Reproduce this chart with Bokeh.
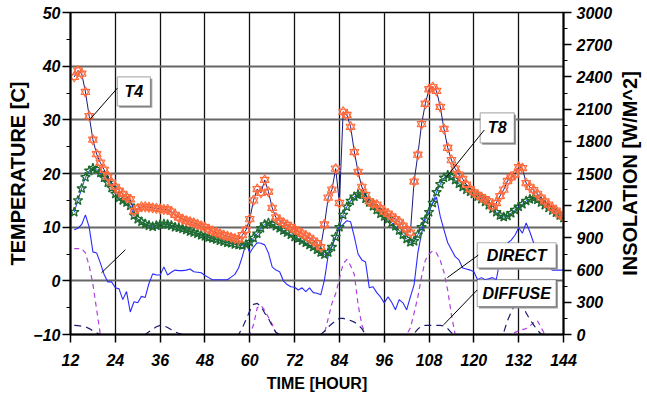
import math
from bokeh.plotting import figure
from bokeh.layouts import row
from bokeh.models import (Range1d, LinearAxis, SingleIntervalTicker, FixedTicker,
                          BoxAnnotation, Label, Arrow)
from bokeh.embed import file_html
from bokeh.resources import INLINE

# ---------------- data ----------------
hours = list(range(13, 145))

t4 = [38.0, 39.2, 38.6, 35.2, 30.7, 26.3, 23.6, 22.0, 20.7, 19.4, 18.3, 17.5,
      16.8, 16.2, 15.6, 15.2, 13.0, 13.5, 13.8, 13.8, 13.7, 13.6, 13.5, 13.4,
      13.3, 13.3, 12.9, 12.3, 11.8, 11.5, 11.2, 11.0, 10.8, 10.5, 10.2, 10.0,
      9.6, 9.3, 9.0, 8.8, 8.5, 8.3, 8.1, 7.9, 7.7, 8.5, 9.5, 11.5,
      15.0, 17.1, 16.4, 18.8, 16.6, 13.6, 11.8, 11.2, 10.8, 10.4, 10.0, 9.6,
      9.2, 8.8, 8.4, 8.0, 7.5, 7.0, 6.3, 10.5, 15.5, 17.0, 20.9, 14.5,
      31.5, 30.9, 28.7, 24.0, 20.3, 17.5, 16.0, 14.8, 14.4, 14.2, 13.5, 12.9,
      12.5, 12.0, 11.5, 11.0, 10.3, 9.6, 9.0, 18.5, 23.5, 29.2, 33.0, 35.7,
      36.1, 35.4, 32.4, 28.3, 24.8, 22.5, 20.9, 19.8, 19.0, 17.9, 17.1, 16.5,
      16.0, 15.6, 15.2, 14.8, 13.9, 14.5, 15.8, 17.0, 18.6, 19.3, 19.8, 21.2,
      21.0, 18.2, 17.5, 16.9, 16.2, 15.5, 14.8, 14.2, 13.6, 13.1, 12.4, 11.9]

t8 = [12.8, 15.0, 17.2, 19.3, 20.5, 21.0, 20.8, 20.1, 19.2, 18.3, 17.3, 16.2,
      15.5, 15.0, 14.6, 14.0, 12.2, 11.5, 11.0, 10.6, 10.3, 10.1, 10.3, 10.5,
      10.6, 10.5, 10.3, 10.0, 9.9, 9.7, 9.5, 9.2, 9.0, 8.8, 8.5, 8.3,
      8.1, 7.9, 7.7, 7.5, 7.3, 7.1, 7.0, 6.8, 6.7, 6.6, 6.8, 7.2,
      8.0, 8.8, 9.8, 10.5, 10.8, 10.6, 10.2, 9.8, 9.4, 9.0, 8.6, 8.2,
      7.9, 7.5, 7.1, 6.7, 6.3, 5.8, 5.3, 4.9, 5.3, 6.3, 8.2, 10.0,
      12.3, 13.8, 14.9, 15.7, 16.1, 16.1, 15.3, 14.6, 13.9, 13.2, 12.5, 12.0,
      11.5, 10.8, 10.2, 9.4, 8.6, 7.8, 7.2, 7.4, 8.6, 10.0, 11.4, 12.8,
      14.5, 16.5, 18.0, 19.2, 19.7, 19.4, 18.8, 18.1, 17.5, 17.0, 16.6, 16.2,
      15.7, 15.2, 14.7, 14.1, 13.4, 12.8, 12.2, 11.9, 12.1, 12.6, 13.2, 13.8,
      14.3, 14.9, 15.2, 15.4, 15.1, 14.6, 14.1, 13.6, 13.1, 12.7, 12.2, 11.7]

ambient = [9.5, 9.8, 10.5, 12.3, 10.0, 5.4, 5.2, 3.3, 1.2, -0.2, -0.2, -1.3,
           -1.5, -3.5, -2.0, -5.8, -3.9, -4.1, -2.9, -3.1, -0.5, 1.3, 1.1, 1.1,
           2.6, 1.1, 1.6, 2.0, 1.9, 1.9, 2.0, 2.2, 1.7, 1.6, 1.5, 1.0,
           0.6, 0.2, 0.2, 0.2, 0.2, 0.2, 0.7, 1.2, 2.4, 4.5, 7.1, 5.2,
           6.3, 7.1, 7.0, 6.7, 5.2, 2.6, 2.0, 1.7, 0.0, -0.7, -1.1, -1.2,
           -1.7, -1.3, -2.0, -1.3, -2.2, -2.3, -2.6, 0.2, 4.8, 6.5, 8.2, 10.0,
           10.5, 11.2, 11.0, 8.2, 5.0, 3.9, 3.5, -1.3, -1.1, -2.2, -3.0, -4.1,
           -3.0, -4.0, -5.4, -3.5, -4.1, -5.4, -3.0, -0.7, 5.2, 8.9, 11.9, 13.5,
           14.5, 15.6, 12.0, 9.5, 7.1, 5.8, 4.5, 3.9, 2.4, 2.2, 2.0, 1.7,
           0.2, 0.6, 0.2, 0.4, 0.6, 0.2, 3.9, 6.3, 7.0, 7.6, 8.5, 9.9,
           8.9, 10.8, 9.1, 7.1, 5.4, 4.3, 3.0, 2.5, 2.0, 2.0, 2.0, 2.0]

direct = [800, 800, 800, 760, 640, 470, 230, 0, 0, 0, 0, 0,
          0, 0, 0, 0, 0, 0, 0, 0, 0, 0, 0, 0,
          0, 0, 0, 0, 0, 0, 0, 0, 0, 0, 0, 0,
          0, 0, 0, 0, 0, 0, 0, 0, 0, 0, 0, 0,
          90, 250, 270, 225, 160, 95, 15, 0, 0, 0, 0, 0,
          0, 0, 0, 0, 0, 0, 0, 10, 150, 290, 380, 520,
          660, 700, 640, 560, 280, 90, 0, 0, 0, 0, 0, 0,
          0, 0, 0, 0, 0, 0, 60, 200, 350, 540, 690, 750,
          780, 760, 690, 580, 410, 180, 0, 0, 0, 0, 0, 0,
          0, 0, 0, 0, 0, 0, 0, 0, 0, 0, 20, 35,
          45, 55, 80, 110, 130, 65, 0, 0, 0, 0, 0, 0]

diffuse = [85, 82, 78, 72, 55, 35, 15, 0, 0, 0, 0, 0,
           0, 0, 0, 0, 0, 0, 0, 0, 25, 50, 72, 85,
           80, 65, 45, 25, 10, 0, 0, 0, 0, 0, 0, 0,
           0, 0, 0, 0, 0, 0, 0, 0, 0, 60, 140, 220,
           280, 290, 260, 200, 150, 80, 20, 0, 0, 0, 0, 0,
           0, 0, 0, 0, 0, 0, 0, 30, 70, 100, 130, 150,
           150, 140, 130, 115, 90, 55, 0, 0, 0, 0, 0, 0,
           0, 0, 0, 0, 0, 0, 0, 10, 50, 80, 85, 85,
           85, 85, 85, 80, 55, 15, 0, 0, 0, 0, 0, 0,
           0, 0, 0, 0, 0, 0, 0, 20, 130, 210, 280, 320,
           280, 200, 140, 90, 40, 5, 0, 0, 0, 0, 0, 0]

x_label = "TIME [HOUR]"
y_label = "TEMPERATURE [C]"
y2_label = "INSOLATION [W/M^2]"

# ---------------- figure ----------------
SANS = "'Liberation Sans', Arial, sans-serif"

p = figure(width=615, height=397, output_backend="svg", toolbar_location=None,
           x_range=Range1d(12, 144), y_range=Range1d(-10, 50),
           min_border_left=70, min_border_right=50, min_border_top=12,
           min_border_bottom=63, background_fill_color="white",
           border_fill_color="white")
p.extra_y_ranges = {"ins": Range1d(0, 3000)}

p.outline_line_color = "black"
p.outline_line_width = 1.5

# grids
p.xgrid.ticker = SingleIntervalTicker(interval=12)
p.xgrid.grid_line_color = "#111111"
p.xgrid.grid_line_width = 1.3
p.ygrid.ticker = SingleIntervalTicker(interval=10)
p.ygrid.grid_line_color = "#666666"
p.ygrid.grid_line_width = 1.8

# axes
def style_axis(ax):
    ax.axis_line_color = "black"
    ax.axis_line_width = 2
    ax.major_tick_line_color = "black"
    ax.major_tick_line_width = 1.5
    ax.minor_tick_line_color = "black"
    ax.minor_tick_line_width = 1.2
    ax.major_tick_in = 0
    ax.major_tick_out = 8
    ax.minor_tick_in = 0
    ax.minor_tick_out = 4
    ax.major_label_text_font = SANS
    ax.major_label_text_font_style = "bold italic"
    ax.major_label_text_font_size = "16px"
    ax.major_label_text_color = "black"
    ax.axis_label_text_font = SANS
    ax.axis_label_text_font_style = "bold"
    ax.axis_label_text_color = "black"

xa = p.xaxis[0]
style_axis(xa)
xa.ticker = SingleIntervalTicker(interval=12, num_minor_ticks=0)
xa.minor_tick_line_color = None
xa.major_label_standoff = 11
xa.axis_label = x_label
xa.axis_label_text_font_size = "16px"
xa.axis_label_standoff = 6

ya = p.yaxis[0]
style_axis(ya)
ya.ticker = SingleIntervalTicker(interval=10, num_minor_ticks=2)
ya.major_label_standoff = 2
ya.axis_label = y_label
ya.axis_label_text_font_size = "20px"
ya.axis_label_standoff = 1

ra = LinearAxis(y_range_name="ins",
                ticker=SingleIntervalTicker(interval=300, num_minor_ticks=2))
style_axis(ra)
ra.major_label_standoff = 5
p.add_layout(ra, "right")

# ---------------- series ----------------
p.line(hours, direct, y_range_name="ins", line_color="#b040e0",
       line_dash="5 4", line_width=1.2)
p.line(hours, diffuse, y_range_name="ins", line_color="#1a1a70",
       line_dash="7 5", line_width=1.2)
p.line(hours, ambient, line_color="#2b2bff", line_width=1.1)

p.line(hours, t8, line_color="#2040ff", line_width=1)
p.scatter(hours, t8, marker="star", size=10, line_color="#1d6b30",
          fill_alpha=0, line_width=1.3)

p.line(hours, t4, line_color="#1a1a80", line_width=1)
p.scatter(hours, t4, marker="triangle", size=9, line_color="#ff6a3d",
          fill_alpha=0, line_width=1.1)
p.scatter(hours, t4, marker="inverted_triangle", size=9, line_color="#ff6a3d",
          fill_alpha=0, line_width=1.1)

# ---------------- callouts ----------------
def callout(text, left, right, top, bottom, tx, ty, x0, y0, size="16px"):
    p.add_layout(BoxAnnotation(left=left + 0.5, right=right + 0.5,
                               top=top - 0.35, bottom=bottom - 0.35,
                               fill_color="#9a9a9a", fill_alpha=1,
                               line_color=None))
    p.add_layout(BoxAnnotation(left=left, right=right, top=top, bottom=bottom,
                               fill_color="white", fill_alpha=1,
                               line_color="black", line_width=1.2))
    p.add_layout(Label(x=(left + right) / 2, y=(top + bottom) / 2, text=text,
                       text_align="center", text_baseline="middle",
                       text_font=SANS, text_font_style="bold italic",
                       text_font_size=size, text_color="black"))
    p.add_layout(Arrow(end=None, x_start=tx, y_start=ty, x_end=x0, y_end=y0,
                       line_color="black", line_width=1))

callout("T4", 24.55, 33.4, 38.0, 32.6, 24.55, 35.9, 17.1, 30.0)
callout("T8", 121.7, 130.8, 31.3, 25.7, 122.8, 28.1, 112.7, 19.4)
callout("DIRECT", 120.9, 142.0, 7.1, 2.4, 121.2, 4.8, 112.9, 0.6)
callout("DIFFUSE", 120.9, 142.0, 0.2, -4.8, 120.9, -1.7, 111.9, -8.2)
p.add_layout(Arrow(end=None, x_start=26.7, y_start=5.8, x_end=20.3, y_end=1.5,
                   line_color="black", line_width=1))

# ---------------- right-hand title strip (reads bottom to top) ----------------
p2 = figure(width=32, height=397, output_backend="svg", toolbar_location=None,
            x_range=Range1d(0, 1), y_range=Range1d(0, 3000),
            min_border_left=15, min_border_right=0, min_border_top=12,
            min_border_bottom=63, background_fill_color="white",
            border_fill_color="white")
p2.outline_line_color = None
p2.xaxis.visible = False
p2.xgrid.visible = False
p2.ygrid.visible = False
ta = p2.yaxis[0]
ta.ticker = FixedTicker(ticks=[])
ta.axis_line_color = None
ta.major_tick_line_color = None
ta.minor_tick_line_color = None
ta.major_label_text_font_size = "0px"
ta.axis_label = y2_label
ta.axis_label_text_font = SANS
ta.axis_label_text_font_style = "bold"
ta.axis_label_text_font_size = "20px"
ta.axis_label_text_color = "black"
ta.axis_label_standoff = 0

layout = row(p, p2, spacing=0)
open("out.html", "w").write(file_html(layout, INLINE))
